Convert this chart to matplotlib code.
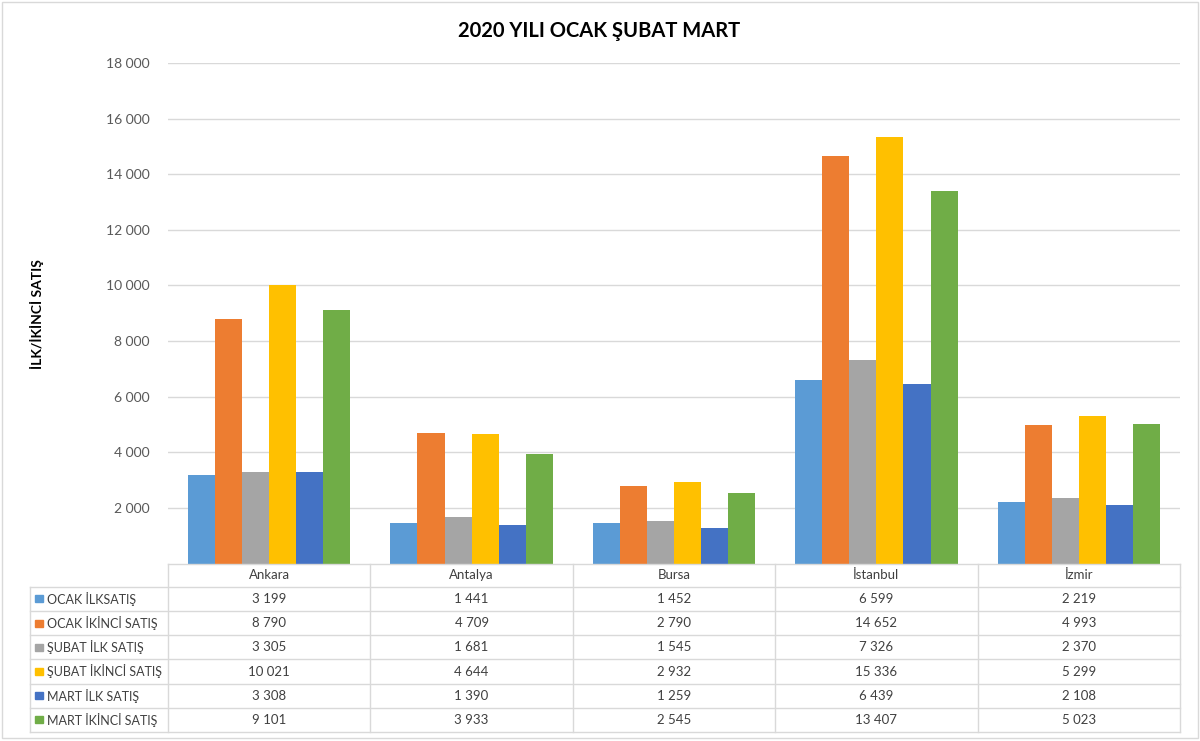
import matplotlib
matplotlib.use("Agg")
import matplotlib.pyplot as plt
from matplotlib.patches import Rectangle
import numpy as np

plt.rcParams['font.family'] = ['Lato', 'DejaVu Sans']

cities = ["Ankara", "Antalya", "Bursa", "İstanbul", "İzmir"]
series_names = ["OCAK İLKSATIŞ", "OCAK İKİNCİ SATIŞ", "ŞUBAT İLK SATIŞ",
                "ŞUBAT İKİNCİ SATIŞ", "MART İLK SATIŞ", "MART İKİNCİ SATIŞ"]
ocak_ilk = [3199, 1441, 1452, 6599, 2219]
ocak_ikinci = [8790, 4709, 2790, 14652, 4993]
subat_ilk = [3305, 1681, 1545, 7326, 2370]
subat_ikinci = [10021, 4644, 2932, 15336, 5299]
mart_ilk = [3308, 1390, 1259, 6439, 2108]
mart_ikinci = [9101, 3933, 2545, 13407, 5023]
series_values = [ocak_ilk, ocak_ikinci, subat_ilk, subat_ikinci, mart_ilk, mart_ikinci]
colors = ["#5B9BD5", "#ED7D31", "#A5A5A5", "#FFC000", "#4472C4", "#70AD47"]
yticks = [2000, 4000, 6000, 8000, 10000, 12000, 14000, 16000, 18000]

W, H = 1200, 741
fig = plt.figure(figsize=(W / 100, H / 100), dpi=100)
fig.patch.set_facecolor("white")

def fx(px):
    return px / W

def fy(py):
    return 1 - py / H

def fmt(v):
    return f"{v:,}".replace(",", " ")

# outer border
fig.add_artist(Rectangle((fx(2), fy(738)), fx(1196), (736) / H, transform=fig.transFigure,
                         fill=False, edgecolor="#D9D9D9", linewidth=1))

# plot area
left, right, top, bottom = 168, 1180, 63, 563.5
ax = fig.add_axes([fx(left), fy(bottom), fx(right - left), (bottom - top) / H])
ax.set_xlim(-0.5, len(cities) - 0.5)
ax.set_ylim(0, 18000)
for s in ax.spines.values():
    s.set_visible(False)
ax.set_xticks([])
ax.set_yticks(yticks)
ax.set_yticklabels([fmt(t) for t in yticks], color="#595959", fontsize=10)
ax.tick_params(axis="y", length=0, pad=13)
ax.yaxis.grid(True, color="#D9D9D9", linewidth=1)
ax.set_axisbelow(True)

n = len(series_values)
w = 27 / 202
x = np.arange(len(cities))
for i, (vals, c) in enumerate(zip(series_values, colors)):
    ax.bar(x + (i - (n - 1) / 2) * w, vals, width=w, color=c, zorder=3)

# title and y label
fig.text(fx(599), fy(31), "2020 YILI OCAK ŞUBAT MART", ha="center", va="center",
         fontsize=14.5, fontweight="bold", color="black")
fig.text(fx(37), fy(314), "İLK/İKİNCİ SATIŞ", ha="center", va="center", rotation=90,
         fontsize=10, fontweight="bold", color="black")

# data table
t_left, t_right, t_top, t_bot = 30, 1180, 563.5, 732
tab = fig.add_axes([fx(t_left), fy(t_bot), fx(t_right - t_left), (t_bot - t_top) / H])
tab.set_xlim(t_left, t_right)
tab.set_ylim(t_bot, t_top)
tab.axis("off")
lc = "#D9D9D9"
row_h = 24.2
header_bot = t_bot - n * row_h
col_w = (t_right - left) / len(cities)
# horizontal lines
tab.plot([left, t_right], [t_top, t_top], color=lc, lw=1, clip_on=False)
for r in range(n + 1):
    yy = header_bot + r * row_h
    tab.plot([t_left, t_right], [yy, yy], color=lc, lw=1, clip_on=False)
# vertical lines
tab.plot([t_left, t_left], [header_bot, t_bot], color=lc, lw=1, clip_on=False)
for c in range(len(cities) + 1):
    xx = left + c * col_w
    tab.plot([xx, xx], [t_top, t_bot], color=lc, lw=1, clip_on=False)
# header
for c, city in enumerate(cities):
    tab.text(left + (c + 0.5) * col_w, (t_top + header_bot) / 2, city, ha="center",
             va="center", fontsize=9.5, color="#404040")
# rows
for r, (name, vals, colr) in enumerate(zip(series_names, series_values, colors)):
    yc = header_bot + (r + 0.5) * row_h
    tab.add_patch(Rectangle((35, yc - 3.5), 8, 7, color=colr, clip_on=False))
    tab.text(47, yc, name, ha="left", va="center", fontsize=9, color="#404040")
    for c, v in enumerate(vals):
        tab.text(left + (c + 0.5) * col_w, yc, fmt(v), ha="center", va="center",
                 fontsize=9.5, color="#404040")

fig.savefig("out.png", dpi=100, facecolor="white")
